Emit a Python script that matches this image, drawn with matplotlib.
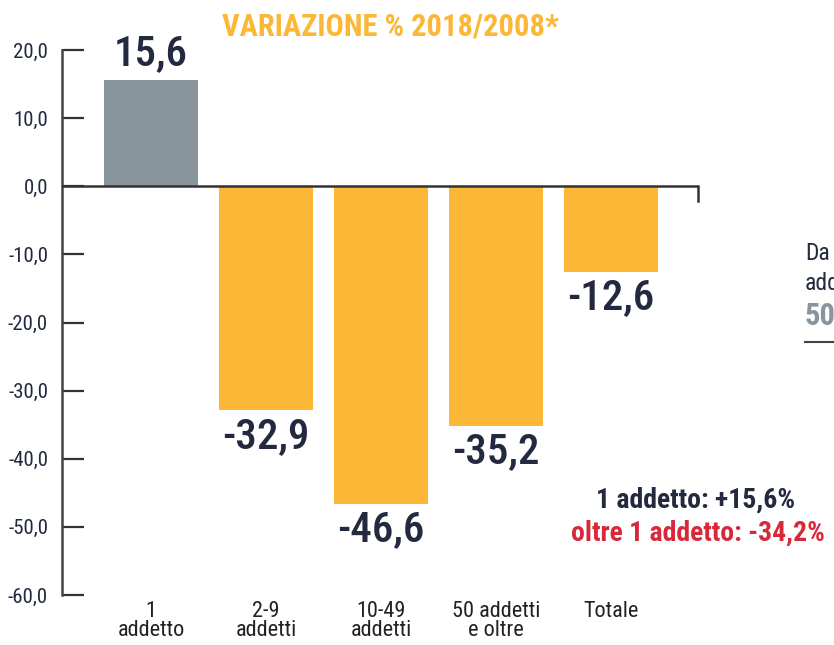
import matplotlib.pyplot as plt
from matplotlib import font_manager

# Dati
categorie = ['1\naddetto', '2-9\naddetti', '10-49\naddetti', '50 addetti\ne oltre', 'Totale']
variazioni = [15.6, -32.9, -46.6, -35.2, -12.6]
etichette = ['15,6', '-32,9', '-46,6', '-35,2', '-12,6']
tick_y = [20, 10, 0, -10, -20, -30, -40, -50, -60]
tick_lbl = ['20,0', '10,0', '0,0', '-10,0', '-20,0', '-30,0', '-40,0', '-50,0', '-60,0']

ARANCIO = '#fbb735'
GRIGIO = '#89959d'
BLU = '#232a3f'
ROSSO = '#d8293b'

# font stretto se disponibile
nomi = {f.name for f in font_manager.fontManager.ttflist}
candidati = ['Roboto Condensed', 'Archivo Narrow', 'PT Sans Narrow', 'Barlow Condensed',
             'Liberation Sans Narrow', 'Liberation Sans']
FONT = [n for n in candidati if n in nomi][:1] + ['DejaVu Sans']
plt.rcParams['font.family'] = FONT

fig = plt.figure(figsize=(8.34, 6.45), dpi=100)
ax = fig.add_axes([62 / 834, 1 - 595 / 645, (698 - 62) / 834, (595 - 50) / 645])

x = list(range(len(categorie)))
colori = [GRIGIO] + [ARANCIO] * 4
ax.bar(x, variazioni, width=0.81, color=colori, zorder=2)

ax.set_xlim(-0.774, 4.757)
ax.set_ylim(-60, 20)

# Linea dello zero con tacca finale
ax.axhline(0, color='#333333', lw=1.8, zorder=3)
ax.plot([4.757, 4.757], [0, -2.1], color='#333333', lw=1.8, clip_on=False, zorder=3)

for s in ['top', 'right', 'bottom']:
    ax.spines[s].set_visible(False)
ax.spines['left'].set_color('#444444')
ax.spines['left'].set_linewidth(1.8)

ax.set_yticks(tick_y)
ax.set_yticklabels(tick_lbl, fontsize=15, color=BLU)
ax.tick_params(axis='y', direction='in', length=16, width=1.6, color='#333333', pad=10)

ax.set_xticks(x)
ax.set_xticklabels(categorie, fontsize=16, color='#222222', linespacing=0.9)
ax.tick_params(axis='x', length=0, pad=4)

for xi, v, lab in zip(x, variazioni, etichette):
    if v > 0:
        ax.text(xi, v + 0.8, lab, ha='center', va='bottom', fontsize=31,
                fontweight='medium', color=BLU)
    else:
        ax.text(xi, v - 0.8, lab, ha='center', va='top', fontsize=31,
                fontweight='medium', color=BLU)

fig.text(390 / 834, 1 - 27 / 645, 'VARIAZIONE % 2018/2008*', ha='center', va='center',
         fontsize=22, fontweight='bold', color=ARANCIO)

fig.text(696 / 834, 1 - 500 / 645, '1 addetto: +15,6%', ha='center', va='center',
         fontsize=20, fontweight='bold', color=BLU)
fig.text(698 / 834, 1 - 533 / 645, 'oltre 1 addetto: -34,2%', ha='center', va='center',
         fontsize=20, fontweight='bold', color=ROSSO)

# Testo tagliato sul bordo destro, come nell'originale
fig.text(805 / 834, 1 - 253 / 645, 'Da', ha='left', va='center', fontsize=17, color=BLU)
fig.text(805 / 834, 1 - 284 / 645, 'addetti', ha='left', va='center', fontsize=17, color=BLU)
fig.text(805 / 834, 1 - 316 / 645, '50', ha='left', va='center', fontsize=22,
         fontweight='bold', color=GRIGIO)
fig.add_artist(plt.Line2D([805 / 834, 1], [1 - 342 / 645] * 2, color='#444444', lw=1.5))

fig.savefig('out.png', dpi=100)
